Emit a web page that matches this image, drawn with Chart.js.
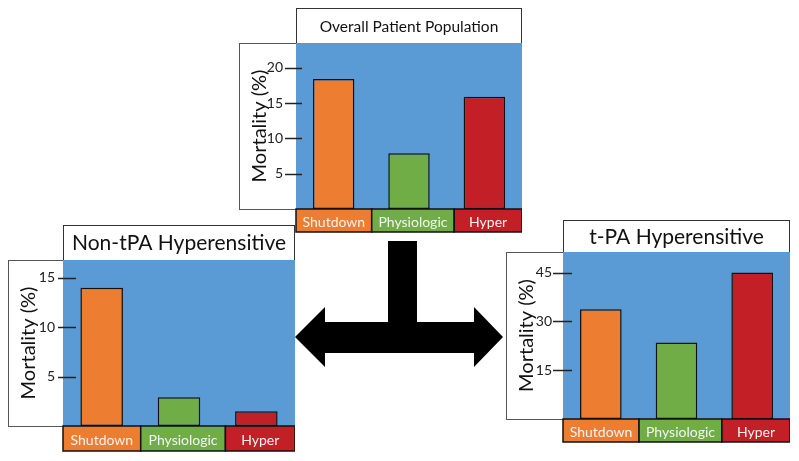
<!DOCTYPE html>
<html>
<head>
<meta charset="utf-8">
<script src="https://cdn.jsdelivr.net/npm/chart.js@4"></script>
<style>
  body { margin: 0; background: #fff; }
  #wrap { position: relative; width: 799px; height: 461px; overflow: hidden; }
  canvas, svg { position: absolute; }
</style>
</head>
<body>
<div id="wrap">
  <canvas id="overallChart" width="283" height="225" style="left:239px;top:8px"></canvas>
  <canvas id="nonTpaChart" width="287" height="227" style="left:8px;top:225px"></canvas>
  <canvas id="tpaChart" width="284" height="223" style="left:506px;top:220px"></canvas>
  <svg width="799" height="461" style="left:0;top:0">
    <polygon fill="#000" points="388,241 417,241 417,322 474,322 474,307 503,337 474,367 474,353 325,353 325,367 295,337 325,307 325,322 388,322"/>
  </svg>
</div>
<script>
const categories = ['Shutdown', 'Physiologic', 'Hyper'];
const overallMortality = [18.4, 7.9, 15.9];
const nonTpaMortality = [14.0, 2.9, 1.5];
const tpaMortality = [33.7, 23.5, 45.0];
const overallTicks = [5, 10, 15, 20];
const nonTpaTicks = [5, 10, 15];
const tpaTicks = [15, 30, 45];
const overallMax = 23.5;
const nonTpaMax = 16.8;
const tpaMax = 51.3;

const barColors = ['#ed7d31', '#70ad47', '#c21f26'];
const plotBlue = '#5b9bd5';
const labelSplits = [0, 0.335, 0.70, 1];
const FONT = 'Lato, "Open Sans", sans-serif';

// boxes round the panel, title text, coloured category labels, tick marks
const panelPlugin = {
  id: 'panel',
  beforeDraw(chart) {
    const { ctx, chartArea: a } = chart;
    ctx.save();
    ctx.fillStyle = '#fff';
    ctx.fillRect(0, a.top, a.left, a.bottom - a.top);
    ctx.fillRect(a.left, 0, a.right - a.left, a.top);
    ctx.strokeStyle = '#555';
    ctx.lineWidth = 1;
    ctx.strokeRect(0.5, a.top + 0.5, a.left, a.bottom - a.top);
    ctx.strokeStyle = '#333';
    ctx.strokeRect(a.left + 0.5, 0.5, a.right - a.left - 1, a.top);
    ctx.fillStyle = plotBlue;
    ctx.fillRect(a.left, a.top, a.right - a.left, a.bottom - a.top);
    ctx.restore();
  },
  afterDraw(chart, args, opts) {
    const { ctx, chartArea: a } = chart;
    const w = a.right - a.left;
    ctx.save();
    // title
    ctx.fillStyle = '#111';
    ctx.font = opts.titleSize + 'px ' + FONT;
    ctx.textAlign = 'center';
    ctx.textBaseline = 'middle';
    ctx.fillText(opts.title, (a.left + a.right) / 2, a.top / 2 + 1);
    // category label boxes
    const h = chart.height - a.bottom;
    chart.data.labels.forEach((lab, i) => {
      const x0 = a.left + w * labelSplits[i];
      const x1 = a.left + w * labelSplits[i + 1];
      ctx.fillStyle = barColors[i];
      ctx.fillRect(x0, a.bottom, x1 - x0, h - 1);
      ctx.strokeStyle = '#111';
      ctx.lineWidth = 1.5;
      ctx.strokeRect(x0, a.bottom, x1 - x0, h - 1);
      ctx.fillStyle = '#f4f4f4';
      ctx.font = '14px ' + FONT;
      ctx.fillText(lab, (x0 + x1) / 2, a.bottom + h / 2 + 1);
    });
    // tick marks
    const y = chart.scales.y;
    ctx.strokeStyle = '#222';
    ctx.lineWidth = 1.5;
    y.ticks.forEach(t => {
      const py = Math.round(y.getPixelForValue(t.value)) + 0.5;
      ctx.beginPath();
      ctx.moveTo(a.left - opts.tickOut, py);
      ctx.lineTo(a.left + opts.tickIn, py);
      ctx.stroke();
    });
    ctx.restore();
  }
};

function makeChart(id, title, values, ticks, max, cfg) {
  return new Chart(document.getElementById(id), {
    type: 'bar',
    data: {
      labels: categories,
      datasets: [{
        data: values,
        backgroundColor: barColors,
        borderColor: '#111',
        borderWidth: 1.5,
        borderSkipped: false,
        categoryPercentage: 1,
        barPercentage: 0.55
      }]
    },
    options: {
      responsive: false,
      animation: false,
      layout: { padding: { top: cfg.padTop, bottom: cfg.padBottom, left: 0, right: 0 } },
      plugins: {
        legend: { display: false },
        tooltip: { enabled: false },
        panel: { title: title, titleSize: cfg.titleSize, tickIn: cfg.tickIn, tickOut: cfg.tickOut }
      },
      scales: {
        x: { display: false },
        y: {
          min: 0,
          max: max,
          afterBuildTicks: s => { s.ticks = ticks.map(v => ({ value: v })); },
          afterFit: s => { s.width = cfg.axisWidth; },
          grid: { display: false, drawTicks: false },
          border: { display: false },
          ticks: { color: '#222', padding: cfg.labelPad, font: { family: FONT, size: 14 } },
          title: {
            display: true,
            text: 'Mortality (%)',
            color: '#111',
            font: { family: FONT, size: 20 },
            padding: { top: 9, bottom: 0 }
          }
        }
      }
    },
    plugins: [panelPlugin]
  });
}

makeChart('overallChart', 'Overall Patient Population', overallMortality, overallTicks, overallMax,
  { padTop: 35, padBottom: 24, axisWidth: 57, titleSize: 15.5, tickIn: 6, tickOut: 11, labelPad: 13 });
makeChart('nonTpaChart', 'Non-tPA Hyperensitive', nonTpaMortality, nonTpaTicks, nonTpaMax,
  { padTop: 35, padBottom: 26, axisWidth: 55, titleSize: 21, tickIn: 13, tickOut: 5, labelPad: 8 });
makeChart('tpaChart', 't-PA Hyperensitive', tpaMortality, tpaTicks, tpaMax,
  { padTop: 32, padBottom: 24, axisWidth: 57, titleSize: 21, tickIn: 9, tickOut: 10, labelPad: 11 });
</script>
</body>
</html>
